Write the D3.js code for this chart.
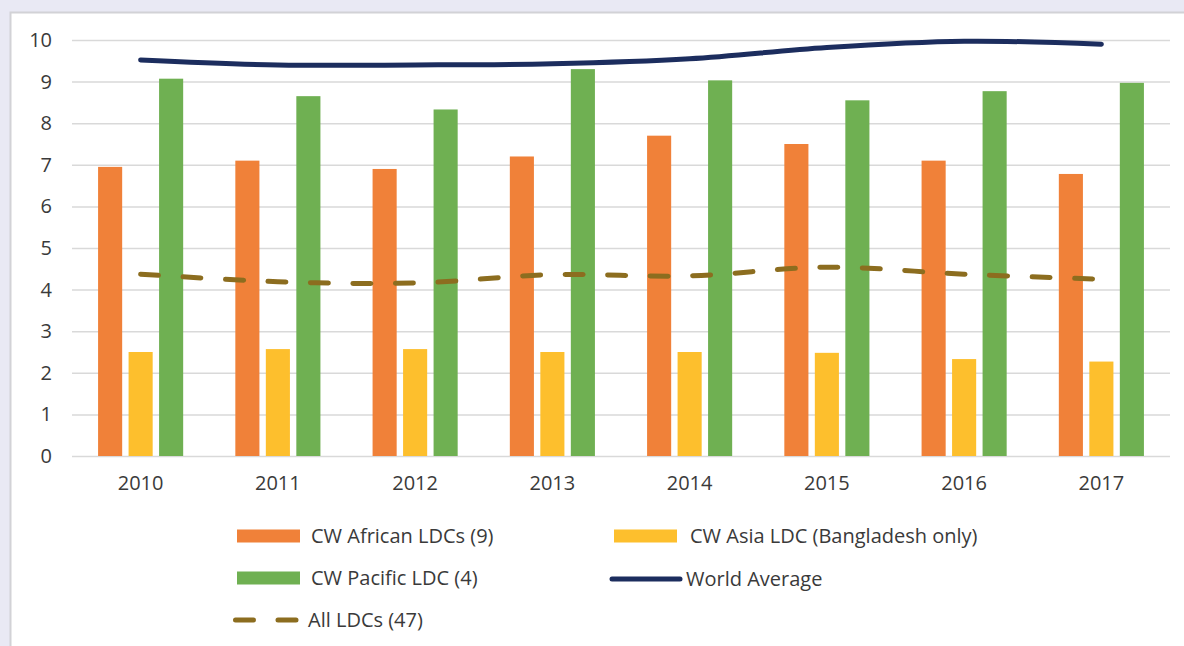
<!DOCTYPE html>
<html>
<head>
<meta charset="utf-8">
<script src="https://cdn.jsdelivr.net/npm/d3@7"></script>
<style>
  html, body { margin: 0; padding: 0; background: #e9e9f4; }
  svg { display: block; }
  text { font-family: "Open Sans", "Noto Sans", sans-serif; fill: #3a3a3a; }
</style>
</head>
<body>
<svg id="chart" width="1184" height="646"></svg>
<script>
const years = ["2010", "2011", "2012", "2013", "2014", "2015", "2016", "2017"];
const africanLDCs = [6.95, 7.1, 6.9, 7.2, 7.7, 7.5, 7.1, 6.78];
const asiaLDC = [2.5, 2.57, 2.57, 2.5, 2.5, 2.48, 2.33, 2.27];
const pacificLDC = [9.07, 8.65, 8.33, 9.3, 9.03, 8.55, 8.77, 8.97];
const worldAverage = [9.52, 9.4, 9.4, 9.43, 9.55, 9.82, 9.97, 9.9];
const allLDCs = [4.37, 4.19, 4.16, 4.36, 4.33, 4.54, 4.37, 4.25];
const yTicks = [0, 1, 2, 3, 4, 5, 6, 7, 8, 9, 10];

const barSeries = [
  { name: "CW African LDCs (9)", values: africanLDCs, color: "#f08139" },
  { name: "CW Asia LDC (Bangladesh only)", values: asiaLDC, color: "#fdbf2d" },
  { name: "CW Pacific LDC (4)", values: pacificLDC, color: "#6fb052" }
];
const lineSeries = [
  { name: "World Average", values: worldAverage, color: "#1c2d5e", dash: null },
  { name: "All LDCs (47)", values: allLDCs, color: "#8c6d1f", dash: "18,24.5" }
];

const svg = d3.select("#chart");

// panel
svg.append("rect")
  .attr("x", 10.5).attr("y", 12.5)
  .attr("width", 1200).attr("height", 700)
  .attr("fill", "#ffffff")
  .attr("stroke", "#d2d2d6").attr("stroke-width", 2);

const x0 = d3.scaleBand().domain(years).range([72, 1170]).paddingInner(0.38).paddingOuter(0.19);
const x1 = d3.scaleBand().domain(barSeries.map(s => s.name)).range([0, x0.bandwidth()]).paddingInner(0.21);
const y = d3.scaleLinear().domain([0, 10]).range([456, 40]);

// gridlines
const yAxis = d3.axisLeft(y).tickValues(yTicks).tickSize(-(1170 - 72)).tickPadding(20).tickFormat(d3.format("d"));
const gy = svg.append("g").attr("transform", "translate(72,0)").call(yAxis);
gy.select(".domain").remove();
gy.selectAll(".tick line").attr("stroke", "#d9d9d9").attr("stroke-width", 1.5);
gy.selectAll(".tick text").attr("font-size", 20).attr("fill", "#3a3a3a").attr("x", -20);

// x axis labels
const xAxis = d3.axisBottom(x0).tickSize(0).tickPadding(20);
const gx = svg.append("g").attr("transform", "translate(0,456)").call(xAxis);
gx.select(".domain").remove();
gx.selectAll(".tick text").attr("font-size", 20).attr("fill", "#3a3a3a");

// bars
barSeries.forEach(s => {
  svg.append("g").selectAll("rect").data(s.values).enter().append("rect")
    .attr("x", (d, i) => x0(years[i]) + x1(s.name))
    .attr("y", d => y(d))
    .attr("width", x1.bandwidth())
    .attr("height", d => y(0) - y(d))
    .attr("fill", s.color);
});

// lines
const line = d3.line()
  .x((d, i) => x0(years[i]) + x0.bandwidth() / 2)
  .y(d => y(d))
  .curve(d3.curveCatmullRom.alpha(0.5));

lineSeries.forEach(s => {
  svg.append("path")
    .datum(s.values)
    .attr("d", line)
    .attr("fill", "none")
    .attr("stroke", s.color)
    .attr("stroke-width", 5)
    .attr("stroke-linecap", "round")
    .attr("stroke-dasharray", s.dash);
});

// legend
const legend = svg.append("g");
const legendItems = [
  { type: "rect", s: barSeries[0], x: 237, y: 536, tx: 311 },
  { type: "rect", s: barSeries[1], x: 614, y: 536, tx: 690 },
  { type: "rect", s: barSeries[2], x: 237, y: 578, tx: 311 },
  { type: "line", s: lineSeries[0], x: 612, y: 579, tx: 686 },
  { type: "line", s: lineSeries[1], x: 235.5, y: 620, tx: 308 }
];
legendItems.forEach(it => {
  if (it.type === "rect") {
    legend.append("rect").attr("x", it.x).attr("y", it.y - 6.5)
      .attr("width", 63).attr("height", 13).attr("fill", it.s.color);
  } else {
    legend.append("line")
      .attr("x1", it.x).attr("x2", it.s.dash ? it.x + 63 : it.x + 68)
      .attr("y1", it.y).attr("y2", it.y)
      .attr("stroke", it.s.color).attr("stroke-width", 5)
      .attr("stroke-linecap", "round")
      .attr("stroke-dasharray", it.s.dash);
  }
  legend.append("text").attr("x", it.tx).attr("y", it.y).attr("dy", "0.35em")
    .attr("font-size", 20).text(it.s.name);
});
</script>
</body>
</html>
